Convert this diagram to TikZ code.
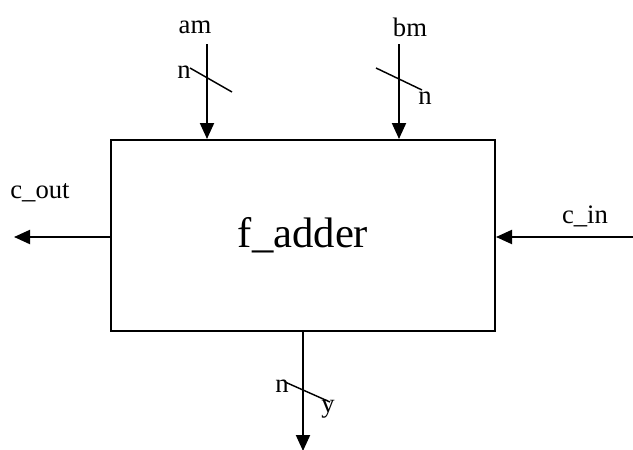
\documentclass[tikz,border=0pt]{standalone}
\usepackage{fontspec}
\setmainfont{Liberation Serif}
\usetikzlibrary{arrows.meta}
\begin{document}
\begin{tikzpicture}[x=0.75pt,y=-0.75pt,
  lbl/.style={inner sep=0pt,font=\fontsize{20}{24}\selectfont},
  arr/.style={line width=1.5pt,-{Triangle[width=10.5pt,length=12pt]}},
  slash/.style={line width=1.1pt},
  blk/.style={draw,line width=1.5pt,minimum width=288pt,minimum height=143.25pt,inner sep=0pt,font=\fontsize{32}{38}\selectfont}]
\useasboundingbox (0,0) rectangle (633,450);
\node[blk] (box) at (303,235.5) {\raisebox{-2.2pt}{f\_adder}};
\coordinate (amtop) at (207,44);
\coordinate (bmtop) at (399,44);
\coordinate (ybot) at (303,451);
\coordinate (coutend) at (14,237);
\coordinate (cinstart) at (634,237);
\draw[arr] (amtop) -- (amtop |- box.north);
\draw[arr] (bmtop) -- (bmtop |- box.north);
\draw[arr] (ybot |- box.south) -- (ybot);
\draw[arr] (coutend -| box.west) -- (coutend);
\draw[arr] (cinstart) -- (cinstart -| box.east);
% slashes
\coordinate (s1a) at (190,68); \coordinate (s1b) at (232,92);
\coordinate (s2a) at (376,68); \coordinate (s2b) at (422,90);
\coordinate (s3a) at (285,382); \coordinate (s3b) at (330,402);
\draw[slash] (s1a) -- (s1b);
\draw[slash] (s2a) -- (s2b);
\draw[slash] (s3a) -- (s3b);
% labels
\node[lbl] (am) at (195,27) {am};
\node[lbl] (bm) at (410,27) {bm};
\node[lbl] (n1) at (184,72) {n};
\node[lbl] (n2) at (425,98) {n};
\node[lbl] (n3) at (282,386) {n};
\node[lbl] (yl) at (328,409) {y};
\node[lbl] (cout) at (40,193) {c\_out};
\node[lbl] (cin) at (585,216) {c\_in};
\end{tikzpicture}
\end{document}
